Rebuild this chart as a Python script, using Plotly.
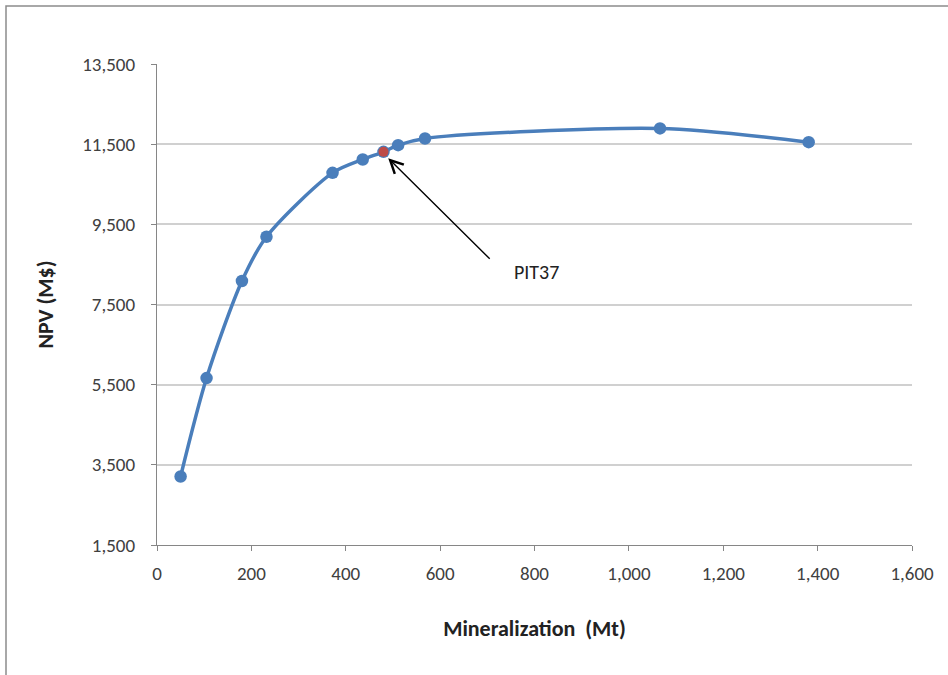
import plotly.graph_objects as go

# Data
mineralization_mt = [50, 105, 180, 232, 372, 436, 480, 511, 568, 1066, 1381]
npv_musd = [3210, 5665, 8086, 9190, 10784, 11118, 11308, 11475, 11642, 11892, 11550]
highlight_name = "PIT37"
highlight_index = 6

x_ticks = [0, 200, 400, 600, 800, 1000, 1200, 1400, 1600]
y_ticks = [1500, 3500, 5500, 7500, 9500, 11500, 13500]

blue = "#4A7EBB"
red = "#BE4B48"
font_family = "Carlito, Calibri, 'Liberation Sans', Arial, sans-serif"

fig = go.Figure()
fig.add_trace(go.Scatter(
    x=mineralization_mt, y=npv_musd, mode="lines+markers",
    line=dict(color=blue, width=3.5, shape="spline", smoothing=0.8),
    marker=dict(color=blue, size=12.5),
    showlegend=False, hoverinfo="x+y",
))
fig.add_trace(go.Scatter(
    x=[mineralization_mt[highlight_index]], y=[npv_musd[highlight_index]],
    mode="markers", marker=dict(color=red, size=10),
    showlegend=False, name=highlight_name,
))

fig.add_annotation(
    x=mineralization_mt[highlight_index] + 10, y=npv_musd[highlight_index] - 160,
    xref="x", yref="y", ax=103, ay=102, axref="pixel", ayref="pixel",
    text="", showarrow=True, arrowhead=5, arrowsize=1.8, arrowwidth=1.4,
    arrowcolor="#000000",
)
fig.add_annotation(
    x=0.502, y=0.568, xref="paper", yref="paper", text=highlight_name,
    showarrow=False, font=dict(family=font_family, size=20, color="#222222"),
    xanchor="center", yanchor="middle",
)

# Outer frame (clipped at the right and bottom like the reference)
fig.add_shape(type="rect", xref="paper", yref="paper",
              x0=-0.2, y0=-0.35, x1=1.2, y1=1.1206,
              line=dict(color="#8C8C8C", width=1.5), fillcolor="rgba(0,0,0,0)",
              layer="below")

fig.update_layout(
    width=948, height=675,
    margin=dict(l=157, r=36, t=64, b=130),
    paper_bgcolor="white", plot_bgcolor="white",
    font=dict(family=font_family, size=19, color="#404040"),
    xaxis=dict(
        range=[0, 1600], tickvals=x_ticks, tickformat=",",
        showgrid=False, zeroline=False,
        showline=True, linecolor="#868686", linewidth=1.2,
        ticks="outside", ticklen=5, tickcolor="#868686",
        ticklabelstandoff=6,
        title=dict(text="<b>Mineralization  (Mt)</b>", standoff=36,
                   font=dict(size=22, color="#222222")),
    ),
    yaxis=dict(
        range=[1500, 13500], tickvals=y_ticks, tickformat=",",
        showgrid=True, gridcolor="#D0D0D0", gridwidth=1.5, zeroline=False,
        showline=True, linecolor="#868686", linewidth=1.2,
        ticks="outside", ticklen=5, tickcolor="#868686",
        ticklabelstandoff=12,
        title=dict(text="<b>NPV (M$)</b>", standoff=22,
                   font=dict(size=22, color="#222222")),
    ),
)

fig.write_html(
    "out.html",
    config={"displayModeBar": False},
    post_script="document.body.style.margin='0';document.body.style.overflow='hidden';",
)
